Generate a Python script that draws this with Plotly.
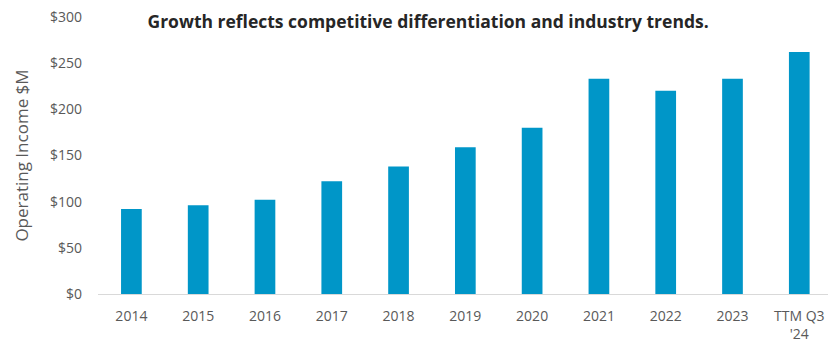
import plotly.graph_objects as go

categories = ["2014", "2015", "2016", "2017", "2018", "2019", "2020", "2021", "2022", "2023", "TTM Q3<br>'24"]
operating_income = [92, 96, 102, 122, 138, 159, 180, 233, 220, 233, 262]
y_ticks = [0, 50, 100, 150, 200, 250, 300]
y_tick_labels = ["$0", "$50", "$100", "$150", "$200", "$250", "$300"]

FONT = "Open Sans"
GRAY = "#595959"

fig = go.Figure(
    go.Bar(
        x=list(range(len(categories))),
        y=operating_income,
        marker=dict(color="#0096C8", line=dict(width=0)),
        width=0.31,
    )
)

fig.update_layout(
    width=828,
    height=344,
    margin=dict(l=98, r=0, t=17, b=50, autoexpand=False),
    paper_bgcolor="white",
    plot_bgcolor="white",
    showlegend=False,
    font=dict(family=FONT, color=GRAY, size=14),
    title=dict(
        text="<b>Growth reflects competitive differentiation and industry trends.</b>",
        x=0.517, xanchor="center", y=0.937, yanchor="middle",
        font=dict(family=FONT, size=17.5, color="#262626"),
    ),
)

fig.update_xaxes(
    tickmode="array",
    tickvals=list(range(len(categories))),
    ticktext=categories,
    range=[-0.5, 10.43],
    showgrid=False,
    showline=True,
    linecolor="#D9D9D9",
    linewidth=1,
    ticks="",
    zeroline=False,
    automargin=False,
    tickfont=dict(family=FONT, size=14, color=GRAY),
    ticklabelstandoff=9,
)

fig.update_yaxes(
    range=[0, 300],
    tickmode="array",
    tickvals=y_ticks,
    ticktext=y_tick_labels,
    showgrid=False,
    zeroline=False,
    showline=False,
    ticks="",
    automargin=False,
    ticklabelstandoff=15,
    tickfont=dict(family=FONT, size=14, color=GRAY),
    title=dict(text="Operating Income $M", font=dict(family=FONT, size=17, color=GRAY), standoff=17),
)

fig.write_html("out.html")
